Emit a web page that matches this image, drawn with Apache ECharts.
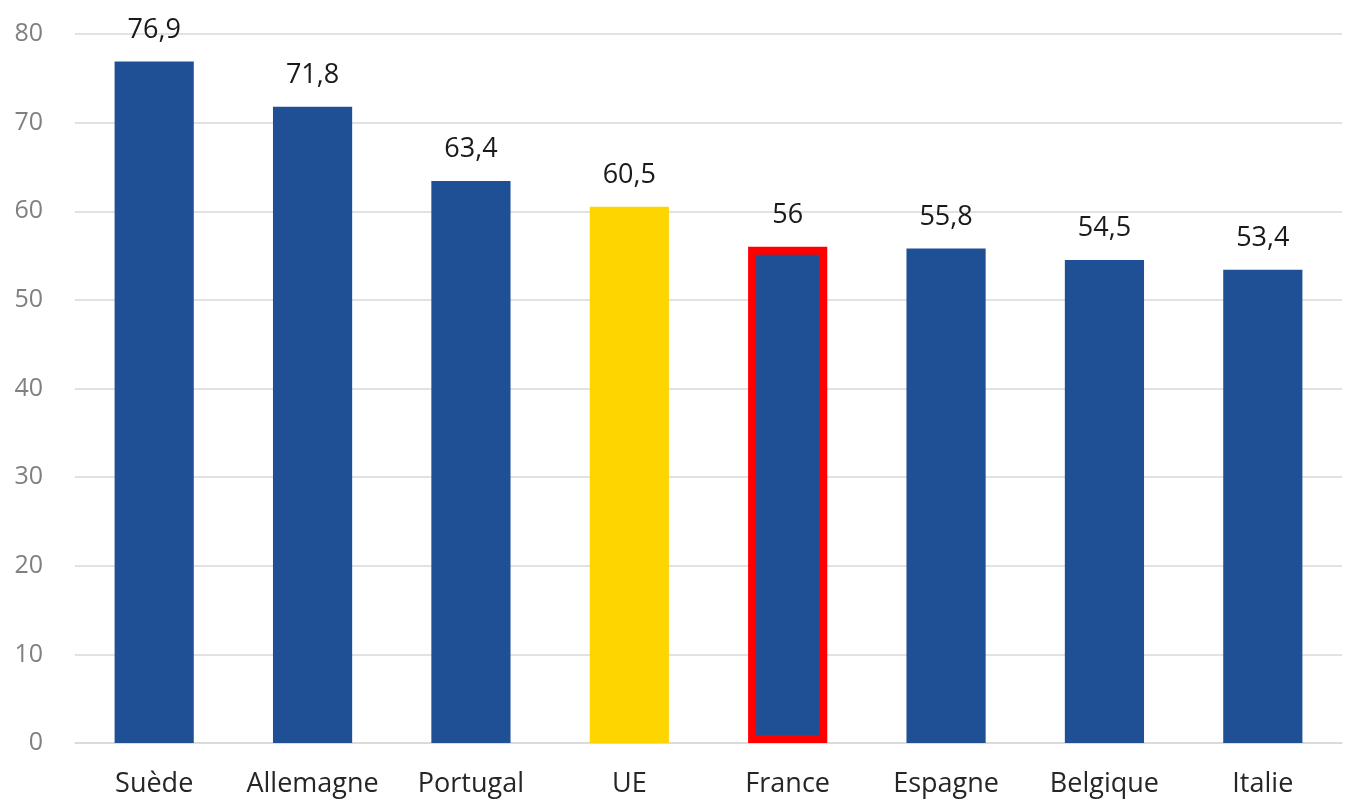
<!DOCTYPE html>
<html><head><meta charset="utf-8">
<script src="https://cdn.jsdelivr.net/npm/echarts@6/dist/echarts.min.js"></script>
<style>html,body{margin:0;padding:0;background:#fff}#c{width:1352px;height:801px}</style>
</head><body><div id="c"></div>
<script>
const categories = ["Suède","Allemagne","Portugal","UE","France","Espagne","Belgique","Italie"];
const values = [76.9, 71.8, 63.4, 60.5, 56, 55.8, 54.5, 53.4];
const yTicks = [0,10,20,30,40,50,60,70,80];
const BLUE = "#1F5096", YELLOW = "#FFD500", RED = "#FF0000";
const chart = echarts.init(document.getElementById('c'));
const font = "'Open Sans', 'Liberation Sans', sans-serif";
chart.setOption({
  animation:false,
  grid:{left:75,right:10,top:34,bottom:58,containLabel:false},
  xAxis:{type:'category',data:categories,
    axisLine:{show:true,lineStyle:{color:'#d9d9d9',width:1.5}},axisTick:{show:false},
    axisLabel:{color:'#262626',fontSize:27,fontFamily:font,margin:28,interval:0,hideOverlap:false}},
  yAxis:{type:'value',min:yTicks[0],max:yTicks[yTicks.length-1],interval:10,
    axisLine:{show:false},axisTick:{show:false},
    splitLine:{lineStyle:{color:'#d9d9d9',width:1.5}},
    axisLabel:{color:'#808080',fontSize:25,fontFamily:font,margin:32}},
  series:[{type:'bar',barWidth:'50%',
    data:values.map((v,i)=>{
      const c=categories[i];
      if(c==='UE') return {value:v,itemStyle:{color:YELLOW}};
      if(c==='France') return {value:v,itemStyle:{color:BLUE,borderColor:RED,borderWidth:8}};
      return {value:v,itemStyle:{color:BLUE}};
    }),
    label:{show:true,position:'top',distance:18,color:'#1a1a1a',fontSize:27,fontFamily:font,
      formatter:p=>String(p.value).replace('.',',')}
  }]
});
</script></body></html>
